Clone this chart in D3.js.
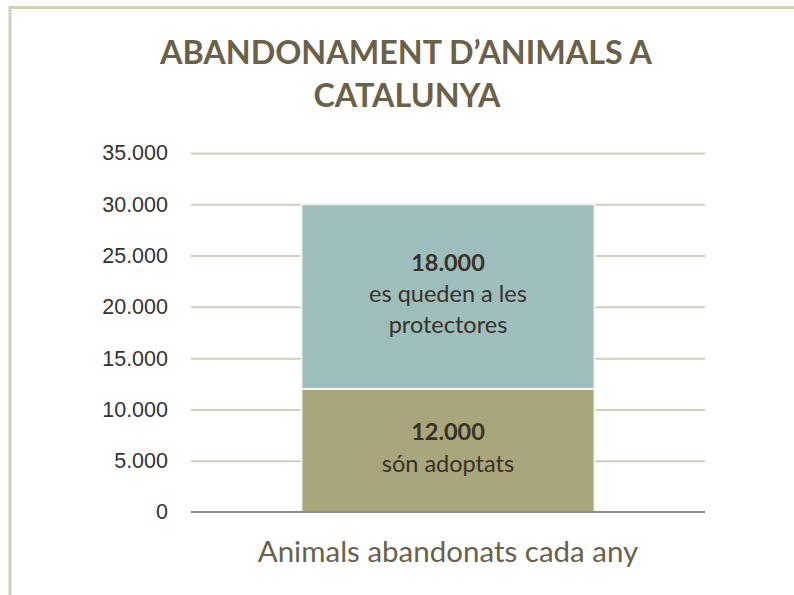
<!doctype html>
<html lang="ca">
<head>
    <meta charset="UTF-8">
    <title>Abandonament d'animals a Catalunya</title>
    <style>
        body { margin: 0; background: #fff; }
        svg { display: block; font-family: Lato, "Open Sans", sans-serif; }
        .grid line { stroke: #d3cfb7; stroke-width: 2px; }
        .grid .domain { display: none; }
        .yaxis text { font-size: 21.5px; fill: #333; }
        .yaxis line, .yaxis .domain { display: none; }
    </style>
</head>
<body>
<svg width="794" height="595"></svg>
<script src="https://cdn.jsdelivr.net/npm/d3@7"></script>
<script>
    const categories = ["Animals abandonats cada any"];
    const seriesNames = ["són adoptats", "es queden a les protectores"];
    const adoptats = [12000];
    const protectores = [18000];
    const yTicks = [0, 5000, 10000, 15000, 20000, 25000, 30000, 35000];
    const labelLines = [["són adoptats"], ["es queden a les", "protectores"]];
    const colors = ["#a9a57d", "#9dbebd"];

    const svg = d3.select("svg");
    const margin = {top: 153, right: 89, bottom: 83, left: 191};
    const width = +svg.attr("width") - margin.left - margin.right;
    const height = +svg.attr("height") - margin.top - margin.bottom;

    // outer frame (runs off the right and bottom edges)
    svg.append("rect")
        .attr("x", 10).attr("y", 7.5)
        .attr("width", 900).attr("height", 700)
        .attr("fill", "none").attr("stroke", "#d3cfb7").attr("stroke-width", 3);

    const g = svg.append("g").attr("transform", "translate(" + margin.left + "," + margin.top + ")");

    const x = d3.scaleBand().domain(categories).range([0, width]).paddingInner(0).paddingOuter(0.377);
    const y = d3.scaleLinear().domain([0, 35000]).range([height, 0]);
    const fmt = d => d === 0 ? "0" : d3.format(",")(d).replace(/,/g, ".");

    g.append("g").attr("class", "grid")
        .call(d3.axisLeft(y).tickValues(yTicks.slice(1)).tickSize(-width).tickFormat(""));

    g.append("g").attr("class", "yaxis")
        .call(d3.axisLeft(y).tickValues(yTicks).tickSize(0).tickPadding(23).tickFormat(fmt));

    const rows = categories.map((c, i) => ({cat: c, v0: adoptats[i], v1: protectores[i]}));
    const stacked = d3.stack().keys(["v0", "v1"])(rows);

    stacked.forEach((layer, li) => {
        g.selectAll(null).data(layer).join("rect")
            .attr("x", d => x(d.data.cat))
            .attr("y", d => y(d[1]))
            .attr("width", x.bandwidth())
            .attr("height", d => y(d[0]) - y(d[1]))
            .attr("fill", colors[li])
            .attr("stroke", "#f4f4f0").attr("stroke-width", 2);

        layer.forEach(d => {
            const cx = x(d.data.cat) + x.bandwidth() / 2;
            const mid = (y(d[0]) + y(d[1])) / 2;
            const lines = [fmt(d[1] - d[0])].concat(labelLines[li]);
            const n = lines.length;
            const t = g.append("text").attr("text-anchor", "middle").attr("fill", "#3a3226").attr("font-size", 23.5);
            lines.forEach((l, k) => t.append("tspan")
                .attr("x", cx)
                .attr("y", mid + (k - (n - 1) / 2) * 31.3 + 5.5)
                .attr("font-weight", k === 0 ? "bold" : null)
                .text(l));
        });
    });

    // baseline
    g.append("line").attr("x1", 0).attr("x2", width).attr("y1", y(0)).attr("y2", y(0))
        .attr("stroke", "#8c8c8c").attr("stroke-width", 2);

    // category label
    g.append("text").attr("x", width / 2).attr("y", height + 50)
        .attr("text-anchor", "middle").attr("font-size", 29.5).attr("fill", "#6b6148")
        .text(categories[0]);

    // title
    const title = svg.append("text").attr("text-anchor", "middle").attr("fill", "#6b6148")
        .attr("font-size", 32.3).attr("font-weight", "bold");
    title.append("tspan").attr("x", 406).attr("y", 64).text("ABANDONAMENT D\u2019ANIMALS A");
    title.append("tspan").attr("x", 407).attr("y", 107).text("CATALUNYA");
</script>
</body>
</html>
